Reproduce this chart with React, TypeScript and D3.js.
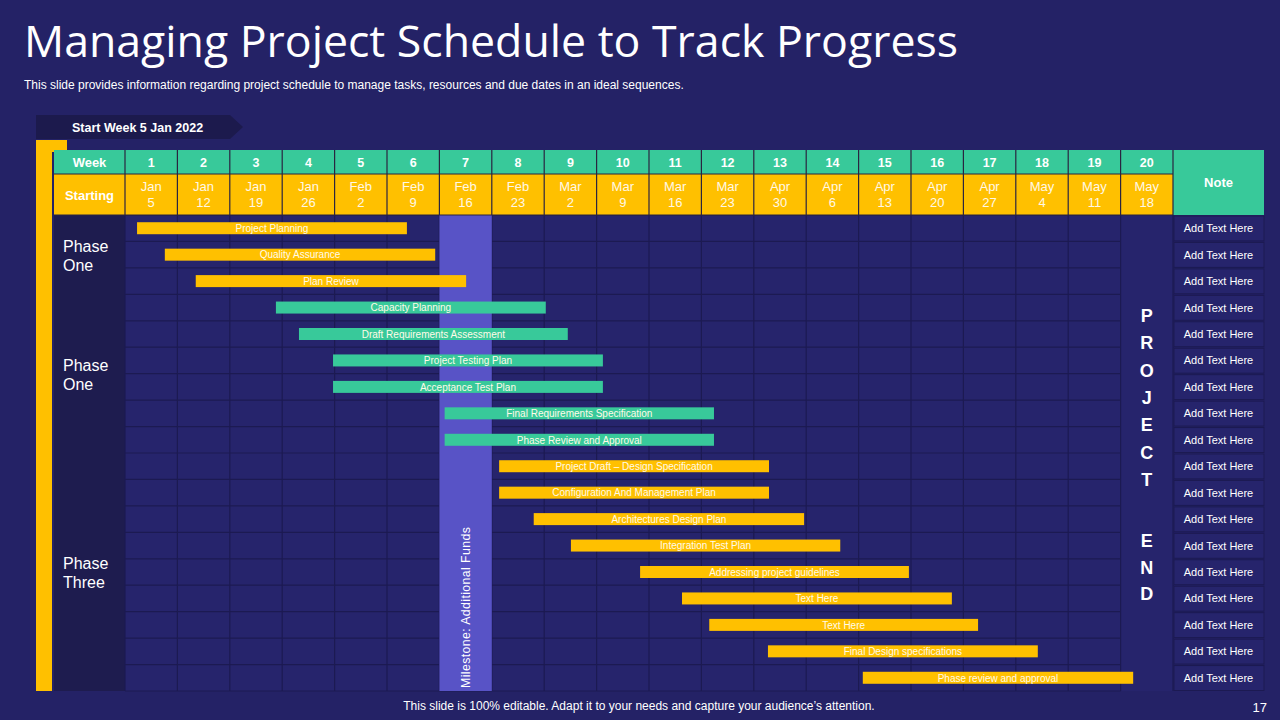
import * as d3 from "d3";

// ---- data ----
const weekNumbers = [1, 2, 3, 4, 5, 6, 7, 8, 9, 10, 11, 12, 13, 14, 15, 16, 17, 18, 19, 20];
const startMonths = ["Jan", "Jan", "Jan", "Jan", "Feb", "Feb", "Feb", "Feb", "Mar", "Mar", "Mar", "Mar", "Apr", "Apr", "Apr", "Apr", "Apr", "May", "May", "May"];
const startDays = ["5", "12", "19", "26", "2", "9", "16", "23", "2", "9", "16", "23", "30", "6", "13", "20", "27", "4", "11", "18"];

const taskNames = [
  "Project Planning",
  "Quality Assurance",
  "Plan Review",
  "Capacity Planning",
  "Draft Requirements  Assessment",
  "Project Testing Plan",
  "Acceptance Test Plan",
  "Final Requirements  Specification",
  "Phase Review and Approval",
  "Project  Draft – Design  Specification",
  "Configuration  And Management  Plan",
  "Architectures Design Plan",
  "Integration  Test Plan",
  "Addressing project guidelines",
  "Text Here",
  "Text Here",
  "Final Design specifications",
  "Phase review and approval",
];
// in weeks from the start of week 1
const taskStart = [0.23, 0.76, 1.35, 2.88, 3.32, 3.97, 3.97, 6.1, 6.1, 7.14, 7.14, 7.8, 8.51, 9.83, 10.63, 11.15, 12.27, 14.08];
const taskEnd = [5.38, 5.92, 6.51, 8.03, 8.45, 9.12, 9.12, 11.24, 11.24, 12.29, 12.29, 12.96, 13.65, 14.96, 15.78, 16.28, 17.42, 19.24];
const taskKind = ["plan", "plan", "plan", "req", "req", "req", "req", "req", "req", "plan", "plan", "plan", "plan", "plan", "plan", "plan", "plan", "plan"];

const phaseLabels = [["Phase", "One"], ["Phase", "One"], ["Phase", "Three"]];
const phaseCenterRow = [1.5, 6, 13.5];

const notes = taskNames.map(() => "Add Text Here");
const milestoneWeek = 7;
const milestoneLabel = "Milestone: Additional Funds";
const endWeek = 20;
const endWords = ["PROJECT", "END"];

// ---- style ----
const BG = "#242266";
const CELL = "#26246c";
const GRIDLINE = "#1c1a52";
const PHASE_BG = "#1e1c4f";
const YELLOW = "#ffc000";
const GREEN = "#38c99a";
const MILESTONE = "#5853c6";
const FONT = "'Liberation Sans', Arial, sans-serif";
const kindColor: Record<string, string> = { plan: YELLOW, req: GREEN };

export default function App() {
  const W = 1280;
  const H = 720;

  const x = d3.scaleLinear().domain([0, weekNumbers.length]).range([125, 1173]);
  const colW = x(1) - x(0);
  const rows = d3.range(taskNames.length);
  const y = d3.scaleBand<number>().domain(rows).range([215, 691]);
  const rowH = y.bandwidth();
  const rowY = d3.scaleLinear().domain([0, taskNames.length]).range([215, 691]);

  const headTop = 150;
  const headMid = 174;
  const headBot = 215;
  const labelL = 54;
  const noteL = 1173;
  const noteR = 1264;
  const bodyBot = 691;
  const barH = 12;

  const msX = x(milestoneWeek - 1);
  const endX = x(endWeek - 1);

  return (
    <div style={{ position: "fixed", left: 0, top: 0 }}>
      <svg width={W} height={H} style={{ display: "block", fontFamily: FONT }}>
        <rect width={W} height={H} fill={BG} />

        {/* title */}
        <text x={24} y={57} fill="#fff" fontSize={43} fontFamily="'Open Sans', sans-serif" textLength={934} lengthAdjust="spacingAndGlyphs">
          Managing Project Schedule to Track Progress
        </text>
        <text x={24} y={89} fill="#fff" fontSize={12}>
          This slide provides information regarding project schedule to manage tasks, resources and due dates in an ideal sequences.
        </text>

        {/* start banner */}
        <path d="M36,115 L230,115 L243,127 L230,139 L36,139 Z" fill="#1c1a4d" />
        <text x={72} y={131.5} fill="#fff" fontSize={12.5} fontWeight="bold">
          Start Week 5 Jan 2022
        </text>

        {/* yellow bracket */}
        <rect x={36} y={140} width={31} height={12} fill={YELLOW} />
        <rect x={36} y={140} width={16} height={bodyBot - 140} fill={YELLOW} />

        {/* body background */}
        <rect x={x(0)} y={headBot} width={x(weekNumbers.length) - x(0)} height={bodyBot - headBot} fill={CELL} />
        <rect x={labelL} y={headBot} width={x(0) - labelL} height={bodyBot - headBot} fill={PHASE_BG} />

        {/* horizontal grid lines */}
        {d3.range(taskNames.length + 1).map((i) => (
          <line key={"h" + i} x1={x(0)} x2={endX} y1={rowY(i)} y2={rowY(i)} stroke={GRIDLINE} strokeWidth={1.2} />
        ))}
        {/* vertical grid lines */}
        {d3.range(weekNumbers.length + 1).map((i) => (
          <line key={"v" + i} x1={x(i)} x2={x(i)} y1={headBot} y2={bodyBot} stroke={GRIDLINE} strokeWidth={1.2} />
        ))}

        {/* milestone column */}
        <rect x={msX} y={headBot} width={colW} height={bodyBot - headBot} fill={MILESTONE} />
        <text
          transform={`translate(${msX + colW / 2 + 4},${bodyBot - 3}) rotate(-90)`}
          fill="#fff"
          fontSize={12.3}
          letterSpacing={0.4}
        >
          {milestoneLabel}
        </text>

        {/* project end column letters */}
        {endWords[0].split("").map((ch, i) => (
          <text key={"p" + i} x={endX + colW / 2} y={322 + i * 27.3} fill="#fff" fontSize={18} fontWeight="bold" textAnchor="middle">
            {ch}
          </text>
        ))}
        {endWords[1].split("").map((ch, i) => (
          <text key={"e" + i} x={endX + colW / 2} y={547 + i * 26.5} fill="#fff" fontSize={18} fontWeight="bold" textAnchor="middle">
            {ch}
          </text>
        ))}

        {/* header */}
        <rect x={labelL} y={headTop} width={x(weekNumbers.length) - labelL} height={headMid - headTop} fill={GREEN} />
        <rect x={labelL} y={headMid} width={x(weekNumbers.length) - labelL} height={headBot - headMid} fill={YELLOW} />
        <rect x={noteL} y={headTop} width={noteR - noteL} height={headBot - headTop} fill={GREEN} />
        <line x1={labelL} x2={noteL} y1={headMid} y2={headMid} stroke="#2a2440" strokeWidth={1.2} />
        <line x1={labelL} x2={noteL} y1={headBot} y2={headBot} stroke="#2a2440" strokeWidth={1.2} />
        {d3.range(weekNumbers.length + 1).map((i) => (
          <line key={"hv" + i} x1={x(i)} x2={x(i)} y1={headTop} y2={headBot} stroke="#2a2440" strokeWidth={1.2} />
        ))}
        <text x={(labelL + x(0)) / 2} y={167} fill="#fff" fontSize={13} fontWeight="bold" textAnchor="middle">
          Week
        </text>
        <text x={(labelL + x(0)) / 2} y={199.5} fill="#fff" fontSize={13} fontWeight="bold" textAnchor="middle">
          Starting
        </text>
        <text x={(noteL + noteR) / 2} y={187} fill="#fff" fontSize={13} fontWeight="bold" textAnchor="middle">
          Note
        </text>
        {weekNumbers.map((w, i) => (
          <g key={"w" + w}>
            <text x={x(i) + colW / 2} y={167} fill="#fff" fontSize={12.5} fontWeight="bold" textAnchor="middle">
              {w}
            </text>
            <text x={x(i) + colW / 2} y={191} fill="#fff8e6" fontSize={13} textAnchor="middle">
              {startMonths[i]}
            </text>
            <text x={x(i) + colW / 2} y={207} fill="#fff8e6" fontSize={13} textAnchor="middle">
              {startDays[i]}
            </text>
          </g>
        ))}

        {/* phase labels */}
        {phaseLabels.map((lines, i) => (
          <text key={"ph" + i} x={63} y={rowY(phaseCenterRow[i]) - 3} fill="#fff" fontSize={16}>
            <tspan x={63}>{lines[0]}</tspan>
            <tspan x={63} dy={19}>
              {lines[1]}
            </tspan>
          </text>
        ))}

        {/* bars */}
        {rows.map((r) => {
          const cy = (y(r) ?? 0) + rowH / 2;
          const x0 = x(taskStart[r]);
          const x1 = x(taskEnd[r]);
          return (
            <g key={"b" + r}>
              <rect x={x0} y={cy - barH / 2} width={x1 - x0} height={barH} fill={kindColor[taskKind[r]]} />
              <text x={(x0 + x1) / 2} y={cy + 3.8} fill="#fffbe8" fontSize={10} textAnchor="middle">
                {taskNames[r]}
              </text>
            </g>
          );
        })}

        {/* notes */}
        {notes.map((n, r) => (
          <g key={"n" + r}>
            <rect x={noteL + 1} y={(y(r) ?? 0) + 1} width={noteR - noteL - 1} height={rowH - 1.5} fill={CELL} stroke={GRIDLINE} strokeWidth={1} />
            <text x={(noteL + noteR) / 2} y={(y(r) ?? 0) + rowH / 2 + 4} fill="#fff" fontSize={11} textAnchor="middle">
              {n}
            </text>
          </g>
        ))}

        {/* footer */}
        <text x={639} y={710} fill="#fff" fontSize={12} textAnchor="middle">
          This slide is 100% editable. Adapt it to your needs and capture your audience’s attention.
        </text>
        <text x={1267} y={712} fill="#fff" fontSize={13} textAnchor="end">
          17
        </text>
      </svg>
    </div>
  );
}
